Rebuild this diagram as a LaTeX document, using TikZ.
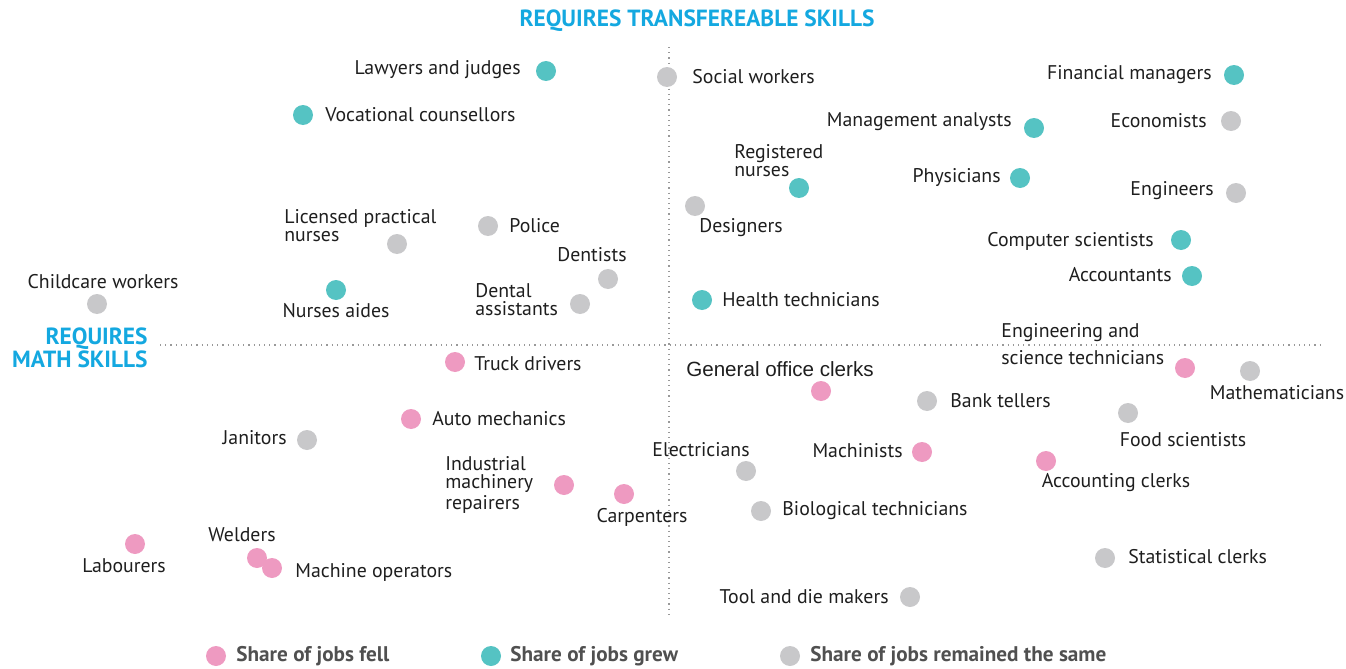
\documentclass[tikz,border=0pt]{standalone}
\usepackage{fontspec}
\setmainfont{PT Sans}
\newfontfamily\arialfont{Liberation Sans}
\definecolor{fellpink}{HTML}{EE9AC1}
\definecolor{grewteal}{HTML}{55C3C3}
\definecolor{samegrey}{HTML}{C8C8CA}
\definecolor{headblue}{HTML}{14A8E0}
\definecolor{inkgrey}{HTML}{1E1E1E}
\definecolor{keygrey}{HTML}{505050}
\begin{document}
\begin{tikzpicture}[x=0.5pt,y=-0.5pt,
  dot/.style={circle,inner sep=0pt,minimum size=10pt},
  fell/.style={dot,fill=fellpink},
  grew/.style={dot,fill=grewteal},
  same/.style={dot,fill=samegrey},
  lbl/.style={font=\fontsize{9.9}{9}\selectfont,text=inkgrey,inner sep=0pt,align=left},
  head/.style={font=\fontsize{11.7}{11.5}\selectfont\bfseries,text=headblue,inner sep=0pt},
  keytext/.style={font=\fontsize{10.6}{11}\selectfont\bfseries,text=keygrey,inner sep=0pt,anchor=west}]
\useasboundingbox (0,0) rectangle (1346,669);

% axes
\draw [gray!80,dotted,line width=0.6pt] (669,47) -- (669,615);
\draw [gray!80,dotted,line width=0.6pt] (160,345) -- (1320,345);
\node[head] (headtop) at (697,21) {REQUIRES TRANSFEREABLE SKILLS};
\node[head,align=right,anchor=east] (headleft) at (148,348) {REQUIRES\\MATH SKILLS};

% share of jobs grew
\foreach \x/\y/\n in {546/71/law, 303/115/voc, 336/290/aide, 799/188/regn,
   702/300/htech, 1234/75/finm, 1034/128/mgmt, 1020/178/phys,
   1181/240/comp, 1192/276/acct}
   \node[grew] (\n) at (\x,\y) {};

% share of jobs remained the same
\foreach \x/\y/\n in {667/77/soc, 1231/121/econ, 1236/193/eng, 695/206/des,
   488/226/pol, 397/244/lpn, 608/279/dent, 580/304/dass, 97/304/child,
   307/440/jan, 1250/371/math, 927/401/bank, 1128/413/food, 746/471/elec,
   761/511/bio, 1105/558/stat, 910/597/tool}
   \node[same] (\n) at (\x,\y) {};

% share of jobs fell
\foreach \x/\y/\n in {455/362/truck, 821/391/office, 411/419/auto,
   1185/368/esci, 922/452/mach, 1046/461/aclk, 564/485/ind, 624/494/carp,
   135/544/lab, 257/558/weld, 272/568/mop}
   \node[fell] (\n) at (\x,\y) {};

% labels
\foreach \x/\y/\a/\n/\t in {521/70/east/tlaw/Lawyers and judges,
   325/115/west/tvoc/Vocational counsellors,
   336/311/center/taide/Nurses aides,
   734/161/west/tregn/{Registered\\nurses},
   722/300/west/thtech/Health technicians,
   1212/75/east/tfinm/Financial managers,
   1012/122/east/tmgmt/Management analysts,
   1001/178/east/tphys/Physicians,
   1154/241/east/tcomp/Computer scientists,
   1172/275/east/tacct/Accountants,
   692/77/west/tsoc/Social workers,
   1207/121/east/tecon/Economists,
   1214/191/east/teng/Engineers,
   699/228/west/tdes/Designers,
   509/226/west/tpol/Police,
   284/226/west/tlpn/{Licensed practical\\nurses},
   627/255/east/tdent/Dentists,
   475/300/west/tdass/{Dental\\assistants},
   103/282/center/tchild/Childcare workers,
   287/438/east/tjan/Janitors,
   1277/393/center/tmath/Mathematicians,
   950/401/west/tbank/Bank tellers,
   1183/440/center/tfood/Food scientists,
   750/450/east/telec/Electricians,
   782/511/west/tbio/Biological technicians,
   1128/557/west/tstat/Statistical clerks,
   889/597/east/ttool/Tool and die makers,
   474/364/west/ttruck/Truck drivers,
   432/419/west/tauto/Auto mechanics,
   903/451/east/tmach/Machinists,
   1116/483/center/taclk/Accounting clerks,
   445/485/west/tind/{Industrial\\machinery\\repairers},
   642/517/center/tcarp/Carpenters,
   124/566/center/tlab/Labourers,
   242/535/center/tweld/Welders,
   295/572/west/tmop/Machine operators}
   \node[lbl,anchor=\a] (\n) at (\x,\y) {\t};
\node[lbl,font=\fontsize{10.3}{10}\arialfont] (toffice) at (780,369) {General office clerks};
\node[lbl,anchor=west,font=\fontsize{9.9}{13.5}\selectfont] (tesci) at (1001,344) {Engineering and\\science technicians};

% key
\node[fell] (kfell) at (216,656) {};
\node[keytext] (tkfell) at (236,656) {Share of jobs fell};
\node[grew] (kgrew) at (491,656) {};
\node[keytext] (tkgrew) at (510,656) {Share of jobs grew};
\node[same] (ksame) at (790,656) {};
\node[keytext] (tksame) at (810,656) {Share of jobs remained the same};
\end{tikzpicture}
\end{document}
